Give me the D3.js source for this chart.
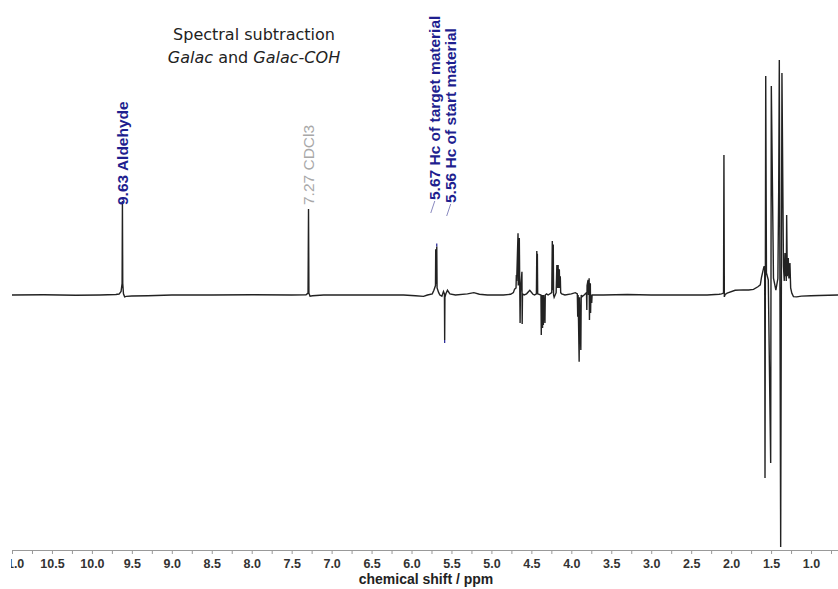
<!DOCTYPE html>
<html>
<head>
<meta charset="utf-8">
<script src="https://cdn.jsdelivr.net/npm/d3@7"></script>
<style>
  body { margin: 0; background: #fff; }
  svg { display: block; }
</style>
</head>
<body>
<svg id="nmr" width="838" height="589"></svg>
<script>
// spectrum trace: [ppm, intensity], intensity 100 = tallest line
var spectrum = [
  [11.00, 0], [10.60, 0.1], [10.20, -0.1], [9.90, 0], [9.70, 0.2],
  [9.66, 0.4], [9.635, 1.5], [9.622, 5], [9.618, 40], [9.614, 5], [9.605, 0.5], [9.59, -0.8], [9.57, -0.6],
  [9.50, -0.4], [9.30, -0.3], [9.00, 0], [8.50, 0], [8.00, 0.1], [7.50, 0],
  [7.32, 0.1], [7.295, 0.8], [7.289, 36.6], [7.284, 0.8], [7.27, -0.5], [7.24, -0.3], [7.10, 0],
  [6.80, 0], [6.40, 0], [6.10, 0], [5.95, -0.3], [5.85, -0.6], [5.80, 0],
  [5.74, 0.5], [5.72, 2], [5.700, 4], [5.697, 19.5], [5.694, 5], [5.688, 5], [5.684, 20.6],
  [5.680, 3], [5.66, 1], [5.645, 0], [5.62, -0.5], [5.60, 1.5], [5.588, 0.5], [5.585, -19.1], [5.582, -1],
  [5.57, 0.5], [5.55, 2], [5.52, 0.5], [5.45, 0], [5.30, 0.5], [5.22, 1], [5.15, 0.3], [5.05, 0],
  [4.85, 0], [4.76, 0.3],
  [4.725, 1], [4.71, 2.5], [4.692, 3], [4.688, 8.5], [4.684, 6], [4.667, 26.3], [4.664, 4], [4.651, 24.3],
  [4.645, 2], [4.641, -11.9], [4.637, 1], [4.618, 9.9], [4.615, -12.3], [4.611, 0.5],
  [4.59, 0], [4.56, 0.5], [4.52, 2], [4.48, 0.3], [4.46, 0],
  [4.437, 0.5], [4.432, 18.7], [4.428, 1], [4.425, 17.5], [4.421, 0.5],
  [4.38, 0], [4.376, -17], [4.372, 0], [4.36, -14], [4.357, 0], [4.35, -12.8], [4.346, 0], [4.33, -11.9],
  [4.326, 0], [4.31, 0.5], [4.29, 0],
  [4.245, 1], [4.238, 23], [4.233, 2], [4.226, 21.5], [4.222, 0], [4.215, -1],
  [4.19, 1], [4.181, 12.8], [4.177, 3], [4.165, 12.8], [4.161, 3], [4.15, 11], [4.146, 3], [4.138, 8],
  [4.133, 1], [4.12, 0.5], [4.08, 0], [4.00, 0.5], [3.95, 1],
  [3.925, 0.5], [3.92, -9.2], [3.915, 0], [3.902, -28.4], [3.897, -1], [3.881, -23.4], [3.876, 0],
  [3.865, -0.7], [3.84, 0],
  [3.81, 1], [3.806, -6.4], [3.803, 4], [3.79, 6.4], [3.785, 0], [3.777, 7.1], [3.773, -10.6], [3.769, 0],
  [3.762, 5], [3.759, -7.7], [3.755, 0], [3.745, -3.4], [3.74, 0], [3.72, 0],
  [3.60, 0], [3.30, 0.2], [3.00, 0], [2.60, 0], [2.30, 0], [2.15, 0.3],
  [2.12, 0.5], [2.095, 0.8], [2.09, 59.6], [2.085, -0.8], [2.075, 0.2], [2.05, 0.8], [1.95, 2],
  [1.85, 2.2], [1.78, 2.1], [1.72, 2.4], [1.665, 3.5], [1.635, 4.3], [1.62, 7.5], [1.59, 12], [1.58, 12.3],
  [1.576, -77.9], [1.567, 93.2], [1.558, 9.4], [1.535, 6.4],
  [1.505, -71.5], [1.497, 88.9], [1.47, 7.2], [1.44, 2.1], [1.415, 7], [1.405, 43.4],
  [1.397, 100], [1.38, -107.2], [1.364, 94.5], [1.345, 12], [1.335, 6],
  [1.326, 17.9], [1.318, 8], [1.314, 15], [1.31, 6], [1.305, 34], [1.297, 8], [1.285, 15.7], [1.277, 7],
  [1.264, 13.6], [1.255, 3], [1.24, 0.7], [1.22, -0.7], [1.18, -0.8], [1.12, -0.5], [1.00, -0.3],
  [0.90, -0.2], [0.66, 0]
];

var majorTicks = ["11.0", "10.5", "10.0", "9.5", "9.0", "8.5", "8.0", "7.5", "7.0", "6.5", "6.0",
                  "5.5", "5.0", "4.5", "4.0", "3.5", "3.0", "2.5", "2.0", "1.5", "1.0"];
var minorTicks = [10.75, 10.25, 9.75, 9.25, 8.75, 8.25, 7.75, 7.25, 6.75, 6.25, 5.75,
                  5.25, 4.75, 4.25, 3.75, 3.25, 2.75, 2.25, 1.75, 1.25, 0.75];

var peakLabels = [
  {ppm: 9.618, top: 40,   text: "9.63 Aldehyde",             kind: "peak"},
  {ppm: 7.289, top: 36.6, text: "7.27 CDCl3",                kind: "solvent"},
  {ppm: 5.684, top: 20.6, text: "5.67 Hc of target material", kind: "peak"},
  {ppm: 5.585, top: -19.1, text: "5.56 Hc of start material", kind: "peak"}
];

var titleLine1 = "Spectral subtraction";
var titleLine2 = [["Galac", true], [" and ", false], ["Galac-COH", true]];
var axisTitle = "chemical shift / ppm";

var svg = d3.select("#nmr");

var x = d3.scaleLinear().domain([11.0, 0.6625]).range([12, 838]);
var y = d3.scaleLinear().domain([0, 100]).range([295, 60]);
var axisY = 550;

// clip left edge like the cropped original
svg.append("defs").append("clipPath").attr("id", "clipL")
  .append("rect").attr("x", 11).attr("y", 0).attr("width", 838).attr("height", 589);

// title
var title = svg.append("g")
    .style("font-family", "'DejaVu Sans', Verdana, sans-serif")
    .style("font-size", "16px")
    .attr("fill", "#222");
title.append("text").attr("x", 254).attr("y", 40).attr("text-anchor", "middle").text(titleLine1);
var t2 = title.append("text").attr("x", 254).attr("y", 63).attr("text-anchor", "middle");
titleLine2.forEach(function(p) {
  t2.append("tspan").style("font-style", p[1] ? "italic" : "normal").text(p[0]);
});

// spectrum
var line = d3.line()
    .x(function(d) { return x(d[0]); })
    .y(function(d) { return y(d[1]); });

svg.append("path")
    .datum(spectrum)
    .attr("d", line)
    .attr("fill", "none")
    .attr("stroke", "#222")
    .attr("stroke-width", 1.4)
    .attr("stroke-linejoin", "miter");

// peak labels
var navy = "#1f1f8f";
var nudge = [0, 0, -2, 6];
var lab = svg.append("g").style("font-family", "'Liberation Sans', Arial, sans-serif");

peakLabels.forEach(function(d, i) {
  var px = x(d.ppm);
  var lx = px + nudge[i];
  var base = (i === 3) ? 203 : (i === 2 ? 200 : 205);
  var col = d.kind === "solvent" ? "#a8a8a8" : navy;

  lab.append("text")
      .attr("transform", "translate(" + lx + "," + base + ") rotate(-90)")
      .attr("dy", "0.36em")
      .attr("fill", col)
      .style("font-size", "15.5px")
      .style("font-weight", d.kind === "solvent" ? "normal" : "bold")
      .text(d.text);

  if (i >= 2) {
    // small slanted leader and tip mark
    lab.append("line")
        .attr("x1", lx - 4).attr("y1", base + 13)
        .attr("x2", lx).attr("y2", base + 1)
        .attr("stroke", "#8a8ac0").attr("stroke-width", 1);
    var ty = y(d.top);
    lab.append("line")
        .attr("x1", px).attr("x2", px)
        .attr("y1", d.top > 0 ? ty - 3 : ty)
        .attr("y2", d.top > 0 ? ty : ty + 3)
        .attr("stroke", navy).attr("stroke-width", 1.2);
  }
});

// x axis
var axis = d3.axisBottom(x)
    .tickValues(majorTicks.map(Number).concat(minorTicks))
    .tickSize(4)
    .tickPadding(5)
    .tickFormat(function(v) {
      var s = v.toFixed(1);
      return majorTicks.indexOf(s) >= 0 && Math.abs(v * 2 - Math.round(v * 2)) < 1e-6 ? s : "";
    });

var gx = svg.append("g")
    .attr("transform", "translate(0," + axisY + ")")
    .attr("clip-path", "url(#clipL)")
    .call(axis);

gx.select(".domain").attr("stroke", "#999").attr("stroke-width", 1);
gx.selectAll(".tick line").attr("stroke", "#999");
gx.selectAll(".tick text")
    .attr("fill", "#333")
    .style("font-family", "'Liberation Sans', Arial, sans-serif")
    .style("font-size", "12.5px")
    .style("font-weight", "bold");

svg.append("text")
    .attr("x", 426)
    .attr("y", 584)
    .attr("text-anchor", "middle")
    .attr("fill", "#222")
    .style("font-family", "'Liberation Sans', Arial, sans-serif")
    .style("font-size", "14px")
    .style("font-weight", "bold")
    .text(axisTitle);
</script>
</body>
</html>
